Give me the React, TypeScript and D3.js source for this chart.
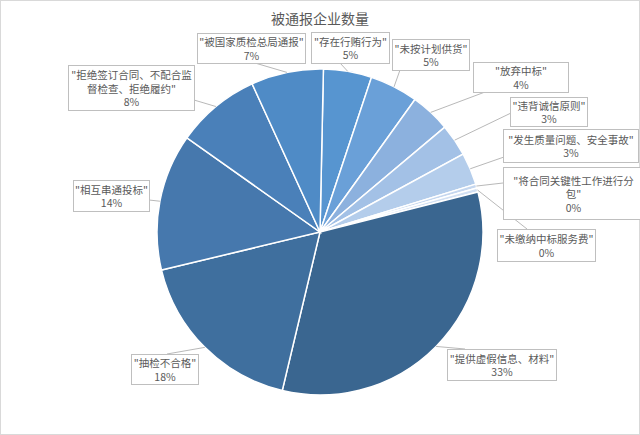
import React from "react";
import * as d3 from "d3";

const title = "被通报企业数量";
const categories = [
  "存在行贿行为",
  "未按计划供货",
  "放弃中标",
  "违背诚信原则",
  "发生质量问题、安全事故",
  "将合同关键性工作进行分包",
  "未缴纳中标服务费",
  "提供虚假信息、材料",
  "抽检不合格",
  "相互串通投标",
  "拒绝签订合同、不配合监督检查、拒绝履约",
  "被国家质检总局通报",
];
const values = [12, 12, 10, 8, 8, 1, 1, 82, 44, 34, 21, 18];
const colors = [
  "#5795d0",
  "#6aa0d8",
  "#8cb1de",
  "#a3c1e6",
  "#b4cdeb",
  "#c5d7ef",
  "#d2e0f3",
  "#3a6690",
  "#3f6f9e",
  "#4678ad",
  "#4a80b9",
  "#4f8bc6",
];
// label box layout: x, y, w, h, wrap index (chars on first line incl. quote, 0 = none)
const boxes: [number, number, number, number, number][] = [
  [311, 32, 78, 31, 0],
  [392, 39, 77, 31, 0],
  [473, 62, 95, 30, 0],
  [510, 97, 77, 29, 0],
  [503, 129, 135, 33, 0],
  [503, 167, 140, 52, 12],
  [497, 229, 98, 32, 0],
  [447, 349, 109, 31, 0],
  [131, 354, 67, 30, 0],
  [73, 180, 76, 31, 0],
  [68, 65, 126, 45, 12],
  [197, 33, 108, 30, 0],
];
// leader line end on box
const anchors: [number, number][] = [
  [340, 63],
  [400, 70],
  [485, 92],
  [511, 113],
  [504, 157],
  [503, 183],
  [527, 229],
  [465, 349],
  [167, 354],
  [149, 200],
  [194, 100],
  [255, 63],
];

const W = 640;
const H = 435;
const cx = 320;
const cy = 232;
const R = 163;
const offset = (1.2 * Math.PI) / 180;

export default function App() {
  const total = d3.sum(values);
  const pie = d3
    .pie<number>()
    .sort(null)
    .value((d) => d)
    .startAngle(offset)
    .endAngle(offset + Math.PI * 2);
  const arcs = pie(values);
  const arc = d3.arc<d3.PieArcDatum<number>>().innerRadius(0).outerRadius(R);
  const fmt = d3.format(".0%");
  const font = "'Noto Sans CJK SC', 'Noto Sans', sans-serif";

  return (
    <div style={{ position: "fixed", left: 0, top: 0 }}>
      <svg width={W} height={H} style={{ display: "block", background: "#fff" }}>
        <rect x={0.5} y={0.5} width={W - 1} height={H - 1} fill="#fff" stroke="#d9d9d9" />
        <text
          x={cx}
          y={18}
          textAnchor="middle"
          dominantBaseline="central"
          fontFamily={font}
          fontSize={14}
          fill="#595959"
        >
          {title}
        </text>
        <g transform={`translate(${cx},${cy})`}>
          {arcs.map((a, i) => (
            <path key={i} d={arc(a) || ""} fill={colors[i]} stroke="#fff" strokeWidth={1.5} />
          ))}
        </g>
        {arcs.map((a, i) => {
          const mid = (a.startAngle + a.endAngle) / 2;
          const ex = cx + R * Math.sin(mid);
          const ey = cy - R * Math.cos(mid);
          const [ax, ay] = anchors[i];
          return (
            <line key={"l" + i} x1={ex} y1={ey} x2={ax} y2={ay} stroke="#a6a6a6" strokeWidth={0.8} />
          );
        })}
        {categories.map((c, i) => {
          const [bx, by, bw, bh, wrap] = boxes[i];
          const full = '"' + c + '"';
          const lines = wrap > 0 ? [full.slice(0, wrap), full.slice(wrap)] : [full];
          lines.push(fmt(values[i] / total));
          const mcy = by + bh / 2;
          const lh = 13.5;
          return (
            <g key={"b" + i}>
              <rect x={bx + 0.5} y={by + 0.5} width={bw} height={bh} fill="#fff" stroke="#bfbfbf" strokeWidth={1} />
              {lines.map((t, j) => (
                <text
                  key={j}
                  x={bx + bw / 2 + 0.5}
                  y={mcy + (j - (lines.length - 1) / 2) * lh + 0.5}
                  textAnchor="middle"
                  dominantBaseline="central"
                  fontFamily={font}
                  fontSize={10.5}
                  fill="#595959"
                >
                  {t}
                </text>
              ))}
            </g>
          );
        })}
      </svg>
    </div>
  );
}
